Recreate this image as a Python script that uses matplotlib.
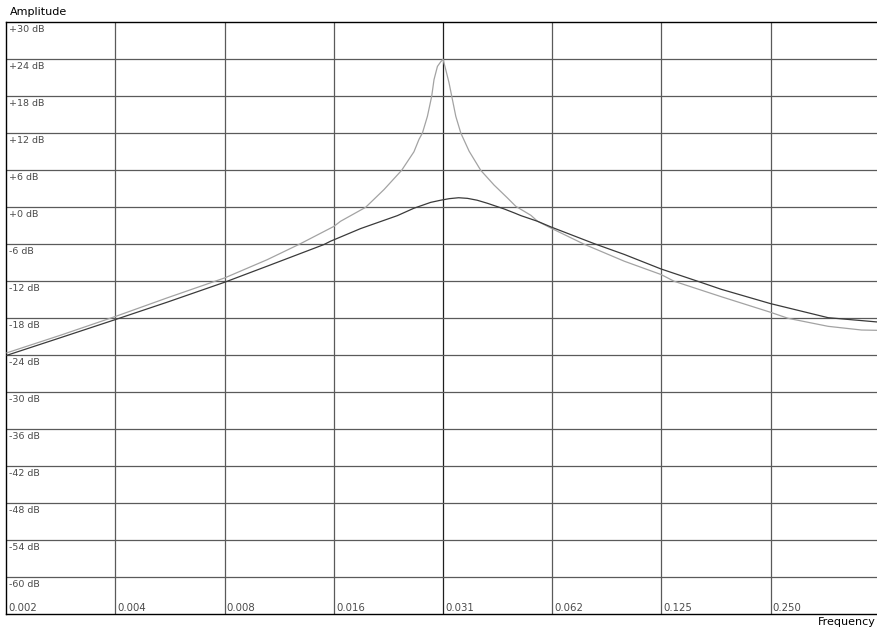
import matplotlib
matplotlib.use("Agg")
import matplotlib.pyplot as plt

# ---- data ----
x_tick_freqs = [1/512, 1/256, 1/128, 1/64, 1/32, 1/16, 1/8, 1/4]
x_tick_labels = ["0.002", "0.004", "0.008", "0.016", "0.031", "0.062", "0.125", "0.250"]
y_tick_values = [30, 24, 18, 12, 6, 0, -6, -12, -18, -24, -30, -36, -42, -48, -54, -60]
y_tick_labels = ["+30 dB", "+24 dB", "+18 dB", "+12 dB", "+6 dB", "+0 dB", "-6 dB", "-12 dB",
                 "-18 dB", "-24 dB", "-30 dB", "-36 dB", "-42 dB", "-48 dB", "-54 dB", "-60 dB"]

# resonant (light gray) curve
res_freq = [0.00196, 0.00277, 0.003906, 0.005416, 0.0078125, 0.01023, 0.01264, 0.015625,
            0.0163, 0.01912, 0.02148, 0.02403, 0.02598, 0.02682, 0.02742, 0.0283, 0.02908,
            0.02951, 0.03016, 0.0308, 0.03125, 0.0318, 0.03246, 0.03303, 0.03389, 0.03498,
            0.03688, 0.0397, 0.04322, 0.04707, 0.0496, 0.05459, 0.05695, 0.06238,
            0.07662, 0.09883, 0.1247, 0.1356, 0.1828, 0.2492, 0.2793, 0.3602, 0.4453, 0.4933]
res_db = [-23.6, -20.7, -17.7, -14.7, -11.45, -8.5, -5.9, -3.1,
          -2.27, 0.0, 2.87, 6.0, 9.0, 11.0, 12.05, 14.75, 18.0,
          20.7, 22.85, 23.6, 24.0, 22.3, 20.2, 18.0, 14.75, 12.05,
          9.1, 6.0, 3.6, 1.5, 0.16, -1.3, -2.27, -3.45,
          -6.0, -8.75, -10.9, -12.0, -14.5, -17.0, -18.0, -19.3, -19.9, -19.95]

# damped (dark) curve
damp_freq = [0.00196, 0.00277, 0.003906, 0.005416, 0.0078125, 0.01023, 0.01466, 0.0153,
             0.01852, 0.02339, 0.02598, 0.0289, 0.0308, 0.0325, 0.0345, 0.0365,
             0.0388, 0.04143, 0.04607, 0.04908, 0.05123, 0.05695, 0.06208, 0.08164, 0.09883,
             0.1247, 0.1575, 0.1828, 0.2492, 0.3602, 0.4933]
damp_db = [-24.0, -21.1, -18.2, -15.4, -12.15, -9.55, -6.05, -5.5,
           -3.45, -1.35, -0.15, 0.8, 1.15, 1.4, 1.55, 1.45,
           1.15, 0.65, -0.27, -0.9, -1.35, -2.27, -3.2, -5.9, -7.65,
           -10.0, -12.0, -13.3, -15.6, -17.9, -18.6]

W, H = 878, 629
fig = plt.figure(figsize=(W / 100, H / 100), dpi=100)
ax = fig.add_axes([6.3 / W, 1 - 614.3 / H, 1.0 - 6.3 / W + 0.002, (614.3 - 22.3) / H])
ax.set_xscale("log", base=2)
ax.set_xlim(1/512, 1/2)
ax.set_ylim(-66, 30)

grid_col = "#5a5a5a"
for f in x_tick_freqs[1:]:
    c = "#1e1e1e" if abs(f - 1/32) < 1e-9 else grid_col
    ax.axvline(f, color=c, lw=0.9, zorder=1)
for v in y_tick_values[1:]:
    ax.axhline(v, color=grid_col, lw=0.9, zorder=1)

ax.plot(res_freq, res_db, color="#a3a3a3", lw=0.9, zorder=3)
ax.plot(damp_freq, damp_db, color="#3a3a3a", lw=0.9, zorder=4)

ax.set_xticks([])
ax.set_yticks([])
ax.minorticks_off()
for s in ax.spines.values():
    s.set_color("black")
    s.set_linewidth(1.0)
ax.spines["right"].set_visible(False)

lab_col = "#4a4a4a"
trans_y = ax.get_yaxis_transform()
for v, t in zip(y_tick_values, y_tick_labels):
    ax.annotate(t, xy=(0, v), xycoords=trans_y, xytext=(2, -2), textcoords="offset points",
                ha="left", va="top", fontsize=6.8, color=lab_col)
trans_x = ax.get_xaxis_transform()
for f, t in zip(x_tick_freqs, x_tick_labels):
    ax.annotate(t, xy=(f, 0), xycoords=trans_x, xytext=(1.5, 1.0), textcoords="offset points",
                ha="left", va="bottom", fontsize=7.3, color=lab_col)

fig.text(10 / W, 1 - 12 / H, "Amplitude", ha="left", va="center", fontsize=8, color="black")
fig.text(876 / W, 1 - 622 / H, "Frequency", ha="right", va="center", fontsize=8, color="black")

fig.savefig("out.png", dpi=100)
